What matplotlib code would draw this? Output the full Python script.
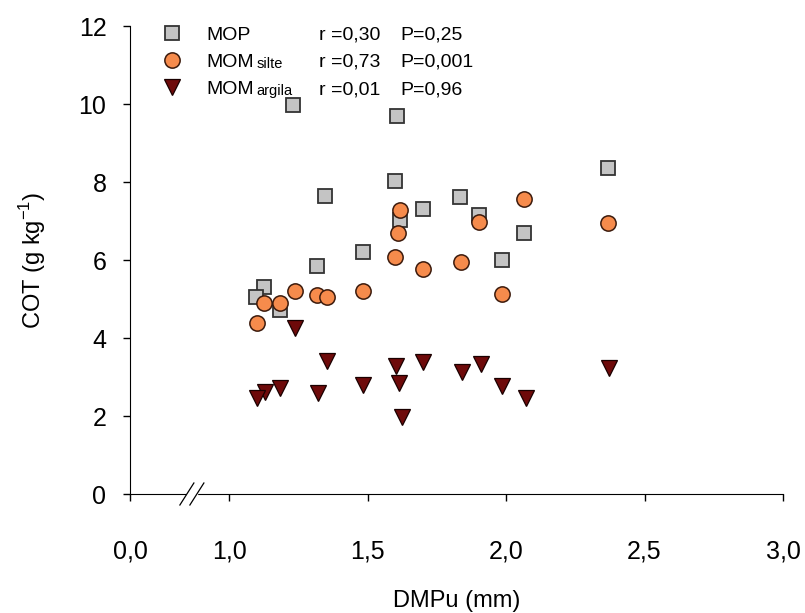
import numpy as np
import matplotlib
matplotlib.use("Agg")
import matplotlib.pyplot as plt

plt.rcParams["font.family"] = ["Liberation Sans", "DejaVu Sans"]

# DMPu (mm) and COT (g/kg)
mop_x = [1.232, 1.608, 1.599, 1.348, 1.699, 1.617, 1.483, 1.319, 1.128, 1.097,
         1.184, 1.834, 1.904, 2.065, 1.984, 2.367]
mop_y = [9.97, 9.69, 8.03, 7.64, 7.32, 7.03, 6.20, 5.85, 5.32, 5.04,
         4.72, 7.61, 7.15, 6.69, 6.01, 8.35]

silte_x = [1.617, 1.610, 1.600, 1.699, 1.483, 1.239, 1.317, 1.353, 1.128, 1.184,
           1.101, 2.065, 1.904, 2.367, 1.836, 1.984]
silte_y = [7.28, 6.68, 6.08, 5.76, 5.21, 5.20, 5.11, 5.06, 4.91, 4.91,
           4.39, 7.56, 6.97, 6.96, 5.94, 5.14]

argila_x = [1.239, 1.353, 1.603, 1.701, 1.615, 1.485, 1.184, 1.130, 1.102, 1.321,
            1.623, 1.840, 1.909, 1.987, 2.072, 2.372]
argila_y = [4.25, 3.42, 3.29, 3.38, 2.85, 2.79, 2.71, 2.62, 2.45, 2.60,
            1.98, 3.14, 3.33, 2.77, 2.45, 3.22]

series_names = ["MOP", "MOM", "MOM"]
series_subs = ["", "silte", "argila"]
r_labels = ["r =0,30", "r =0,73", "r =0,01"]
p_labels = ["P=0,25", "P=0,001", "P=0,96"]

x_ticks = [1.0, 1.5, 2.0, 2.5, 3.0]
y_ticks = [0, 2, 4, 6, 8, 10, 12]

# the axis is broken: the "0,0" tick sits here, the rest is linear
x_origin = 1.0 - 99 / 277
x_break = 0.866

fig = plt.figure(figsize=(8.05, 6.13), dpi=100)
ax = fig.add_axes([130 / 805, 119 / 613, 653 / 805, 468 / 613])

ax.plot(mop_x, mop_y, ls="none", marker="s", ms=10, mfc="#c4c4c4",
        mec="#333333", mew=1.3, label=series_names[0], zorder=3)
ax.plot(silte_x, silte_y, ls="none", marker="o", ms=11, mfc="#f68b4c",
        mec="#3b1a0c", mew=1.1, label=series_names[1], zorder=4)
ax.plot(argila_x, argila_y, ls="none", marker="v", ms=11.5, mfc="#6e0a0a",
        mec="#1a0000", mew=0.9, label=series_names[2], zorder=5)

ax.set_xlim(x_origin, 3.0)
ax.set_ylim(0, 12)
ax.spines["top"].set_visible(False)
ax.spines["right"].set_visible(False)

ax.set_xticks([x_origin] + x_ticks)
ax.set_xticklabels(["0,0"] + [f"{v:.1f}".replace(".", ",") for v in x_ticks])
ax.set_yticks(y_ticks)
ax.set_yticklabels([str(v) for v in y_ticks])
ax.tick_params(axis="x", direction="out", length=5, width=1, pad=28,
               labelsize=18)
ax.tick_params(axis="y", direction="out", length=5, width=1, pad=12,
               labelsize=18)

ax.set_xlabel("DMPu (mm)", fontsize=17, labelpad=19)
ax.set_ylabel(r"COT (g kg$^{\mathregular{-1}}$)", fontsize=17, labelpad=22)

# axis break "//"
px_x = (3.0 - x_origin) / 653
px_y = 1 / 468
trans = ax.get_xaxis_transform()
ax.fill_between([x_break - 5 * px_x, x_break + 5 * px_x], -3 * px_y, 3 * px_y,
                color="white", transform=trans, clip_on=False, zorder=6)
for off in (-5, 5):
    xc = x_break + off * px_x
    ax.plot([xc - 7 * px_x, xc + 7 * px_x], [-11 * px_y, 11 * px_y],
            color="black", lw=0.9, transform=trans, clip_on=False, zorder=7)

leg = ax.legend(loc="upper left", bbox_to_anchor=(0.05, 1.0), frameon=False,
                fontsize=14, handlelength=1.0, handletextpad=1.25,
                labelspacing=0.5, borderpad=0, borderaxespad=0)

# lay the subscripts and r / P columns next to the legend rows
fig.canvas.draw()
inv = ax.transAxes.inverted()
for txt, sub, r, p in zip(leg.get_texts(), series_subs, r_labels, p_labels):
    bb = txt.get_window_extent()
    (x1, y0), = inv.transform([[bb.x1, bb.y0]])
    (_, yc), = inv.transform([[bb.x1, (bb.y0 + bb.y1) / 2]])
    if sub:
        ax.text(x1 + 0.004, y0, sub, transform=ax.transAxes, ha="left",
                va="bottom", fontsize=10.5)
    ax.text(0.29, yc, r, transform=ax.transAxes, ha="left", va="center",
            fontsize=14)
    ax.text(0.414, yc, p, transform=ax.transAxes, ha="left", va="center",
            fontsize=14)

fig.savefig("out.png", dpi=100)
